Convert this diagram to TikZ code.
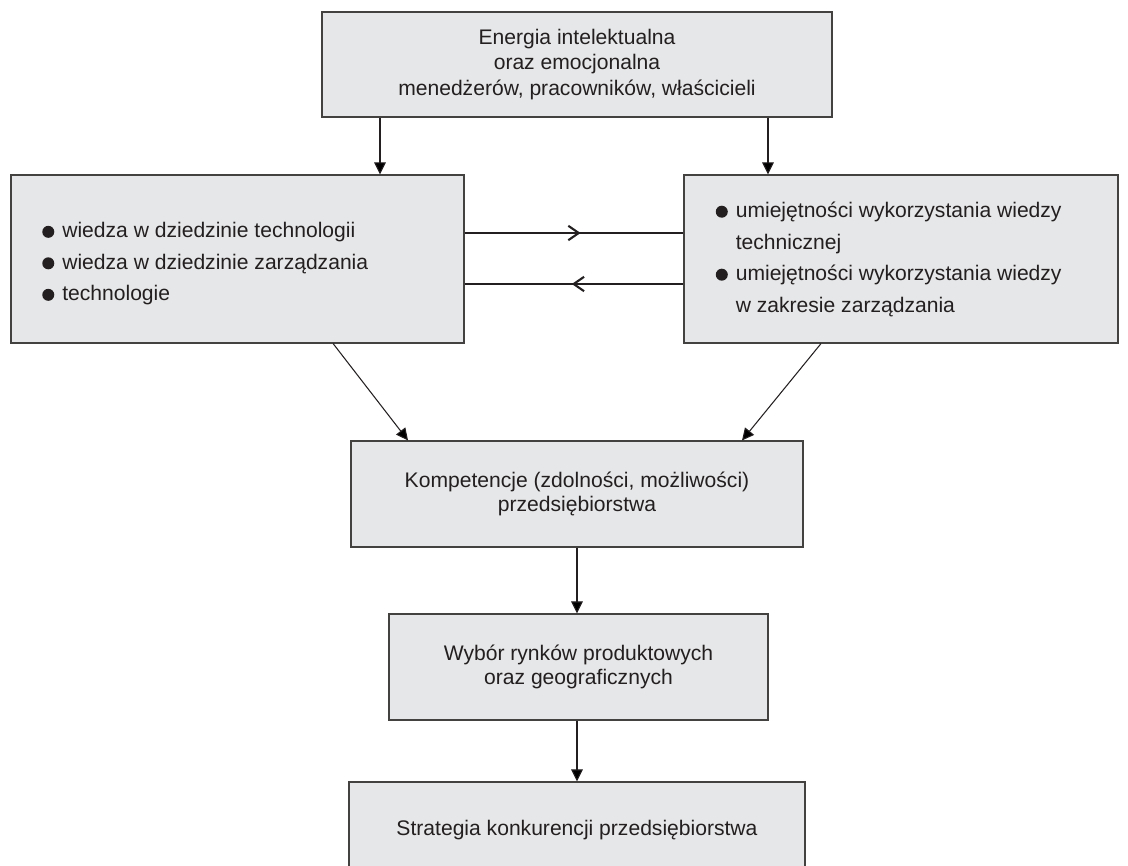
\documentclass[tikz,border=0pt]{standalone}
\usepackage{fontspec}
\setmainfont{Liberation Sans}
\usetikzlibrary{arrows.meta,decorations.markings}
\definecolor{boxgray}{RGB}{230,231,232}
\definecolor{ink}{RGB}{35,31,32}
\newcommand{\kropka}{\tikz[x=1cm,y=1cm,baseline={(0pt,-0.55ex)}]\fill[ink] (0pt,0pt) circle (1.5mm);\hspace{2mm}}
\begin{document}
\begin{tikzpicture}[x=0.25mm,y=-0.25mm,
    box/.style={draw=ink!85,line width=0.8pt,fill=boxgray,inner sep=0pt,align=center,text=ink,font=\fontsize{15}{17.5}\selectfont},
    list/.style={anchor=west,align=left,inner sep=0pt,text=ink,font=\fontsize{15}{22.4}\selectfont},
    arr/.style={draw=ink,line width=0.75pt,-{Triangle[length=3mm,width=2.9mm]}},
    link/.style={draw=ink,line width=0.75pt},
    toright/.style={decoration={markings,mark=at position 0.53 with {\arrow{Straight Barb[length=2.6mm,width=3.6mm,line width=1.5pt]}}},postaction={decorate}},
    toleft/.style={decoration={markings,mark=at position 0.49 with {\arrowreversed{Straight Barb[length=2.6mm,width=3.6mm,line width=1.5pt]}}},postaction={decorate}}]
    \useasboundingbox (0,0) rectangle (1128,865);
    \node[box,minimum width=127.5mm,minimum height=26.25mm,font=\fontsize{15}{18}\selectfont] (energia) at (577,64.5) {Energia intelektualna\\oraz emocjonalna\\menedżerów, pracowników, właścicieli};
    \node[box,minimum width=113.25mm,minimum height=42mm] (wiedza) at (237.5,259) {};
    \node[box,minimum width=108.5mm,minimum height=42mm] (umiej) at (901,259) {};
    \node[list] (wiedzalist) at (42,264) {\kropka wiedza w dziedzinie technologii\\\kropka wiedza w dziedzinie zarządzania\\\kropka technologie};
    \node[list] (umiejlist) at (715.5,259.5) {\kropka umiejętności wykorzystania wiedzy\\\hphantom{\kropka}technicznej\\\kropka umiejętności wykorzystania wiedzy\\\hphantom{\kropka}w zakresie zarządzania};
    \node[box,minimum width=113mm,minimum height=26.5mm] (komp) at (577,494) {Kompetencje (zdolności, możliwości)\\przedsiębiorstwa};
    \node[box,minimum width=94.75mm,minimum height=26.5mm] (wybor) at (578.5,667) {Wybór rynków produktowych\\oraz geograficznych};
    \node[box,minimum width=114mm,minimum height=24mm] (strat) at (577,830) {Strategia konkurencji przedsiębiorstwa};
    \coordinate (eL) at ([xshift=-49.25mm]energia.south);
    \coordinate (eR) at ([xshift=47.75mm]energia.south);
    \draw[arr] (eL) -- (eL |- wiedza.north);
    \draw[arr] (eR) -- (eR |- umiej.north);
    \draw[link,toright] ([yshift=6.5mm]wiedza.east) -- ([yshift=6.5mm]umiej.west);
    \draw[link,toleft] ([yshift=-6.25mm]wiedza.east) -- ([yshift=-6.25mm]umiej.west);
    \draw[arr] ([xshift=23.9mm]wiedza.south) -- ([xshift=-42.25mm]komp.north);
    \draw[arr] ([xshift=-20mm]umiej.south) -- ([xshift=41.25mm]komp.north);
    \draw[arr] (komp.south) -- (komp.south |- wybor.north);
    \draw[arr] (komp.south |- wybor.south) -- (komp.south |- strat.north);
\end{tikzpicture}
\end{document}
